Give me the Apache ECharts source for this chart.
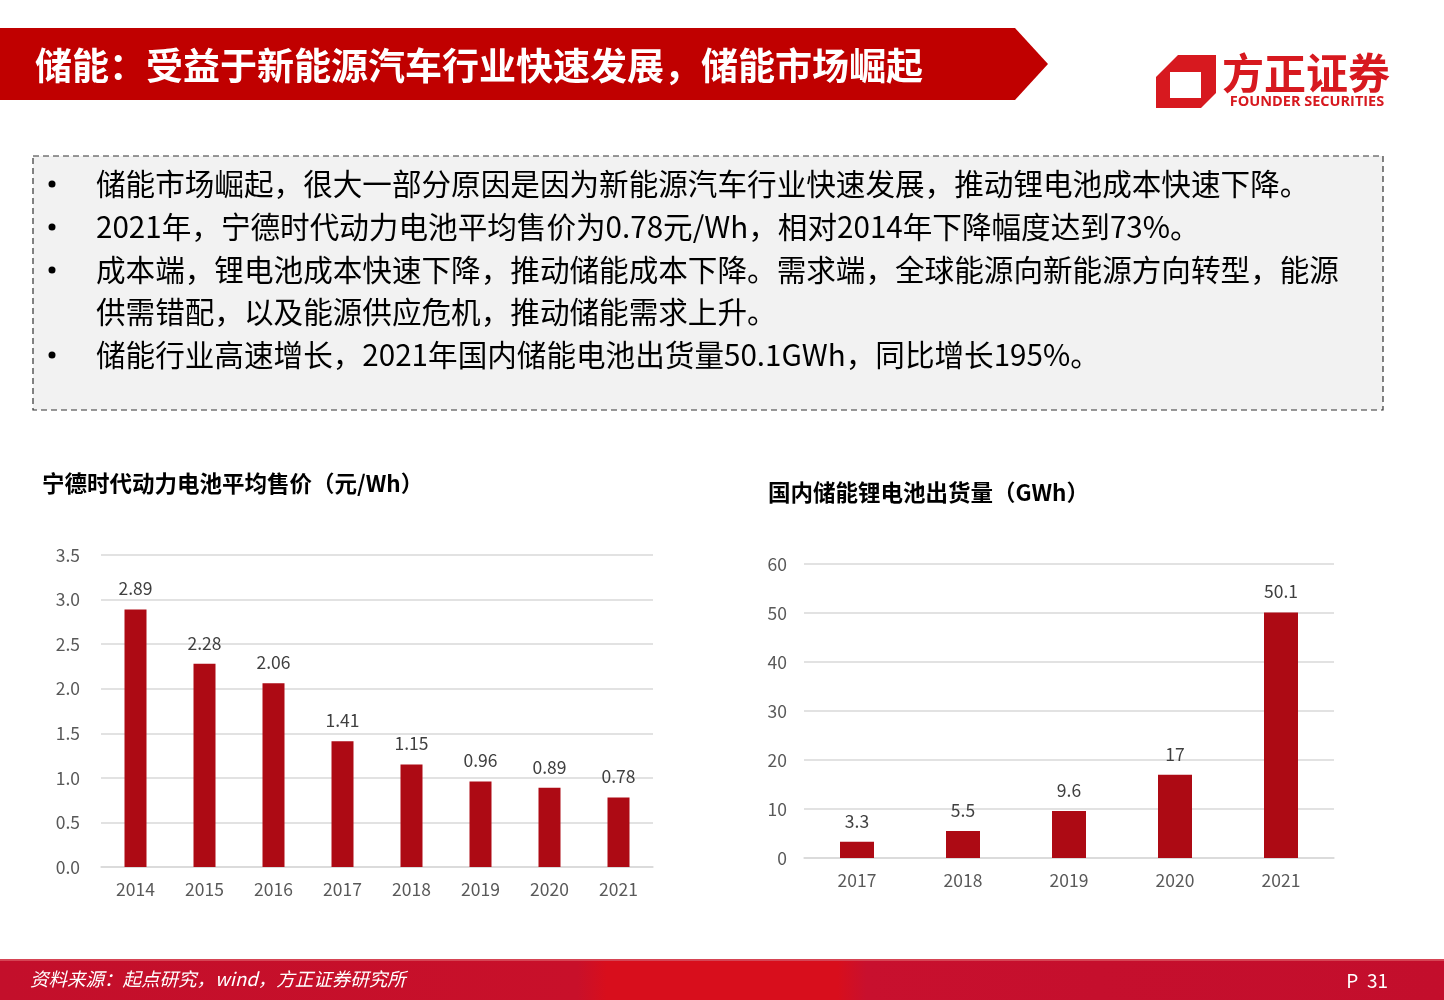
<!DOCTYPE html>
<html><head><meta charset="utf-8">
<script src="https://cdn.jsdelivr.net/npm/echarts@6/dist/echarts.min.js"></script>
<style>html,body{margin:0;padding:0;background:#fff}#c{width:1444px;height:1000px}</style>
</head><body><div id="c"></div>
<script>
const priceYears = ['2014','2015','2016','2017','2018','2019','2020','2021'];
const priceValues = [2.89, 2.28, 2.06, 1.41, 1.15, 0.96, 0.89, 0.78];
const shipYears = ['2017','2018','2019','2020','2021'];
const shipValues = [3.3, 5.5, 9.6, 17, 50.1];

const headerTitle = '储能：受益于新能源汽车行业快速发展，储能市场崛起';
const bulletLines = [
  {b:true, t:'储能市场崛起，很大一部分原因是因为新能源汽车行业快速发展，推动锂电池成本快速下降。'},
  {b:true, t:'2021年，宁德时代动力电池平均售价为0.78元/Wh，相对2014年下降幅度达到73%。'},
  {b:true, t:'成本端，锂电池成本快速下降，推动储能成本下降。需求端，全球能源向新能源方向转型，能源'},
  {b:false, t:'供需错配，以及能源供应危机，推动储能需求上升。'},
  {b:true, t:'储能行业高速增长，2021年国内储能电池出货量50.1GWh，同比增长195%。'}
];
const leftTitle = '宁德时代动力电池平均售价（元/Wh）';
const rightTitle = '国内储能锂电池出货量（GWh）';
const sourceText = '资料来源：起点研究，wind，方正证券研究所';
const pageText = 'P  31';

const FONT = '"Noto Sans CJK SC", "Noto Sans", sans-serif';
const BAR = '#AD0A14';

const chart = echarts.init(document.getElementById('c'));

const g = [];
// header banner
g.push({type:'polygon', shape:{points:[[0,28],[1015,28],[1048,64],[1015,100],[0,100]]}, style:{fill:'#C00000'}});
g.push({type:'text', x:35, y:66, style:{text:headerTitle, fill:'#fff', font:'bold 37px '+FONT, textVerticalAlign:'middle'}});
// logo
g.push({type:'polygon', shape:{points:[[1178,55],[1216,55],[1216,93],[1201,108],[1156,108],[1156,77]]}, style:{fill:'#D7191F'}});
g.push({type:'polygon', shape:{points:[[1170,72],[1201,72],[1201,98],[1170,98]]}, style:{fill:'#fff'}});
g.push({type:'text', x:1306, y:73, style:{text:'方正证券', fill:'#D7191F', font:'bold 42px '+FONT, textAlign:'center', textVerticalAlign:'middle'}});
g.push({type:'text', x:1307, y:102, style:{text:'FOUNDER SECURITIES', fill:'#D7191F', font:'bold 14.5px "Open Sans", sans-serif', textAlign:'center', textVerticalAlign:'middle'}});
// text box
g.push({type:'rect', shape:{x:33,y:156,width:1350,height:254}, style:{fill:'#F2F2F2', stroke:'#333333', lineWidth:1.2, lineDash:[6,4]}});
const lineY = [184,227,270,312,355];
bulletLines.forEach((l,i)=>{
  if(l.b) g.push({type:'circle', shape:{cx:52, cy:lineY[i], r:3.5}, style:{fill:'#000'}});
  g.push({type:'text', x:96, y:lineY[i], style:{text:l.t, fill:'#000', font:'29.6px '+FONT, textVerticalAlign:'middle'}});
});
// chart titles
g.push({type:'text', x:42, y:483, style:{text:leftTitle, fill:'#000', font:'bold 22.5px '+FONT, textVerticalAlign:'middle'}});
g.push({type:'text', x:768, y:492, style:{text:rightTitle, fill:'#000', font:'bold 22.5px '+FONT, textVerticalAlign:'middle'}});
// footer
g.push({type:'rect', shape:{x:0,y:960,width:1444,height:40}, style:{fill:new echarts.graphic.LinearGradient(0,0,1,0,[
  {offset:0,color:'#C30F2B'},{offset:0.4,color:'#C8102A'},{offset:0.42,color:'#D80E1C'},{offset:0.58,color:'#D80E1C'},{offset:0.6,color:'#C8102E'},{offset:0.76,color:'#C50F2D'},{offset:1,color:'#C30E2C'}])}});
g.push({type:'rect', shape:{x:0,y:959,width:1444,height:2}, style:{fill:'#D64555'}});
g.push({type:'text', x:30, y:979, style:{text:sourceText, fill:'#fff', font:'italic 18.5px '+FONT, textVerticalAlign:'middle'}});
g.push({type:'text', x:1388, y:981, style:{text:pageText, fill:'#fff', font:'19px '+FONT, textAlign:'right', textVerticalAlign:'middle'}});

const axisLabelStyle = {color:'#595959', fontSize:17.5, fontFamily:FONT};
const labelStyle = {show:true, position:'top', color:'#404040', fontSize:17.5, fontFamily:FONT, distance:12};

chart.setOption({
  animation:false,
  graphic:{elements:g},
  grid:[
    {left:101, right:791, top:555, bottom:133},
    {left:804, right:110, top:564, bottom:142}
  ],
  xAxis:[
    {gridIndex:0, type:'category', data:priceYears, axisLine:{lineStyle:{color:'#D9D9D9', width:1.5}}, axisTick:{show:false}, axisLabel:Object.assign({margin:14}, axisLabelStyle)},
    {gridIndex:1, type:'category', data:shipYears, axisLine:{lineStyle:{color:'#D9D9D9', width:1.5}}, axisTick:{show:false}, axisLabel:Object.assign({margin:14}, axisLabelStyle)}
  ],
  yAxis:[
    {gridIndex:0, type:'value', min:0, max:3.5, interval:0.5, axisLine:{show:false}, axisTick:{show:false}, splitLine:{lineStyle:{color:'#D9D9D9', width:1.5}}, axisLabel:Object.assign({margin:21, formatter:v=>v.toFixed(1)}, axisLabelStyle)},
    {gridIndex:1, type:'value', min:0, max:60, interval:10, axisLine:{show:false}, axisTick:{show:false}, splitLine:{lineStyle:{color:'#D9D9D9', width:1.5}}, axisLabel:Object.assign({margin:17}, axisLabelStyle)}
  ],
  series:[
    {type:'bar', xAxisIndex:0, yAxisIndex:0, data:priceValues, barWidth:22, itemStyle:{color:BAR}, label:Object.assign({formatter:p=>p.value.toFixed(2)}, labelStyle)},
    {type:'bar', xAxisIndex:1, yAxisIndex:1, data:shipValues, barWidth:34, itemStyle:{color:BAR}, label:labelStyle}
  ]
});
</script></body></html>
